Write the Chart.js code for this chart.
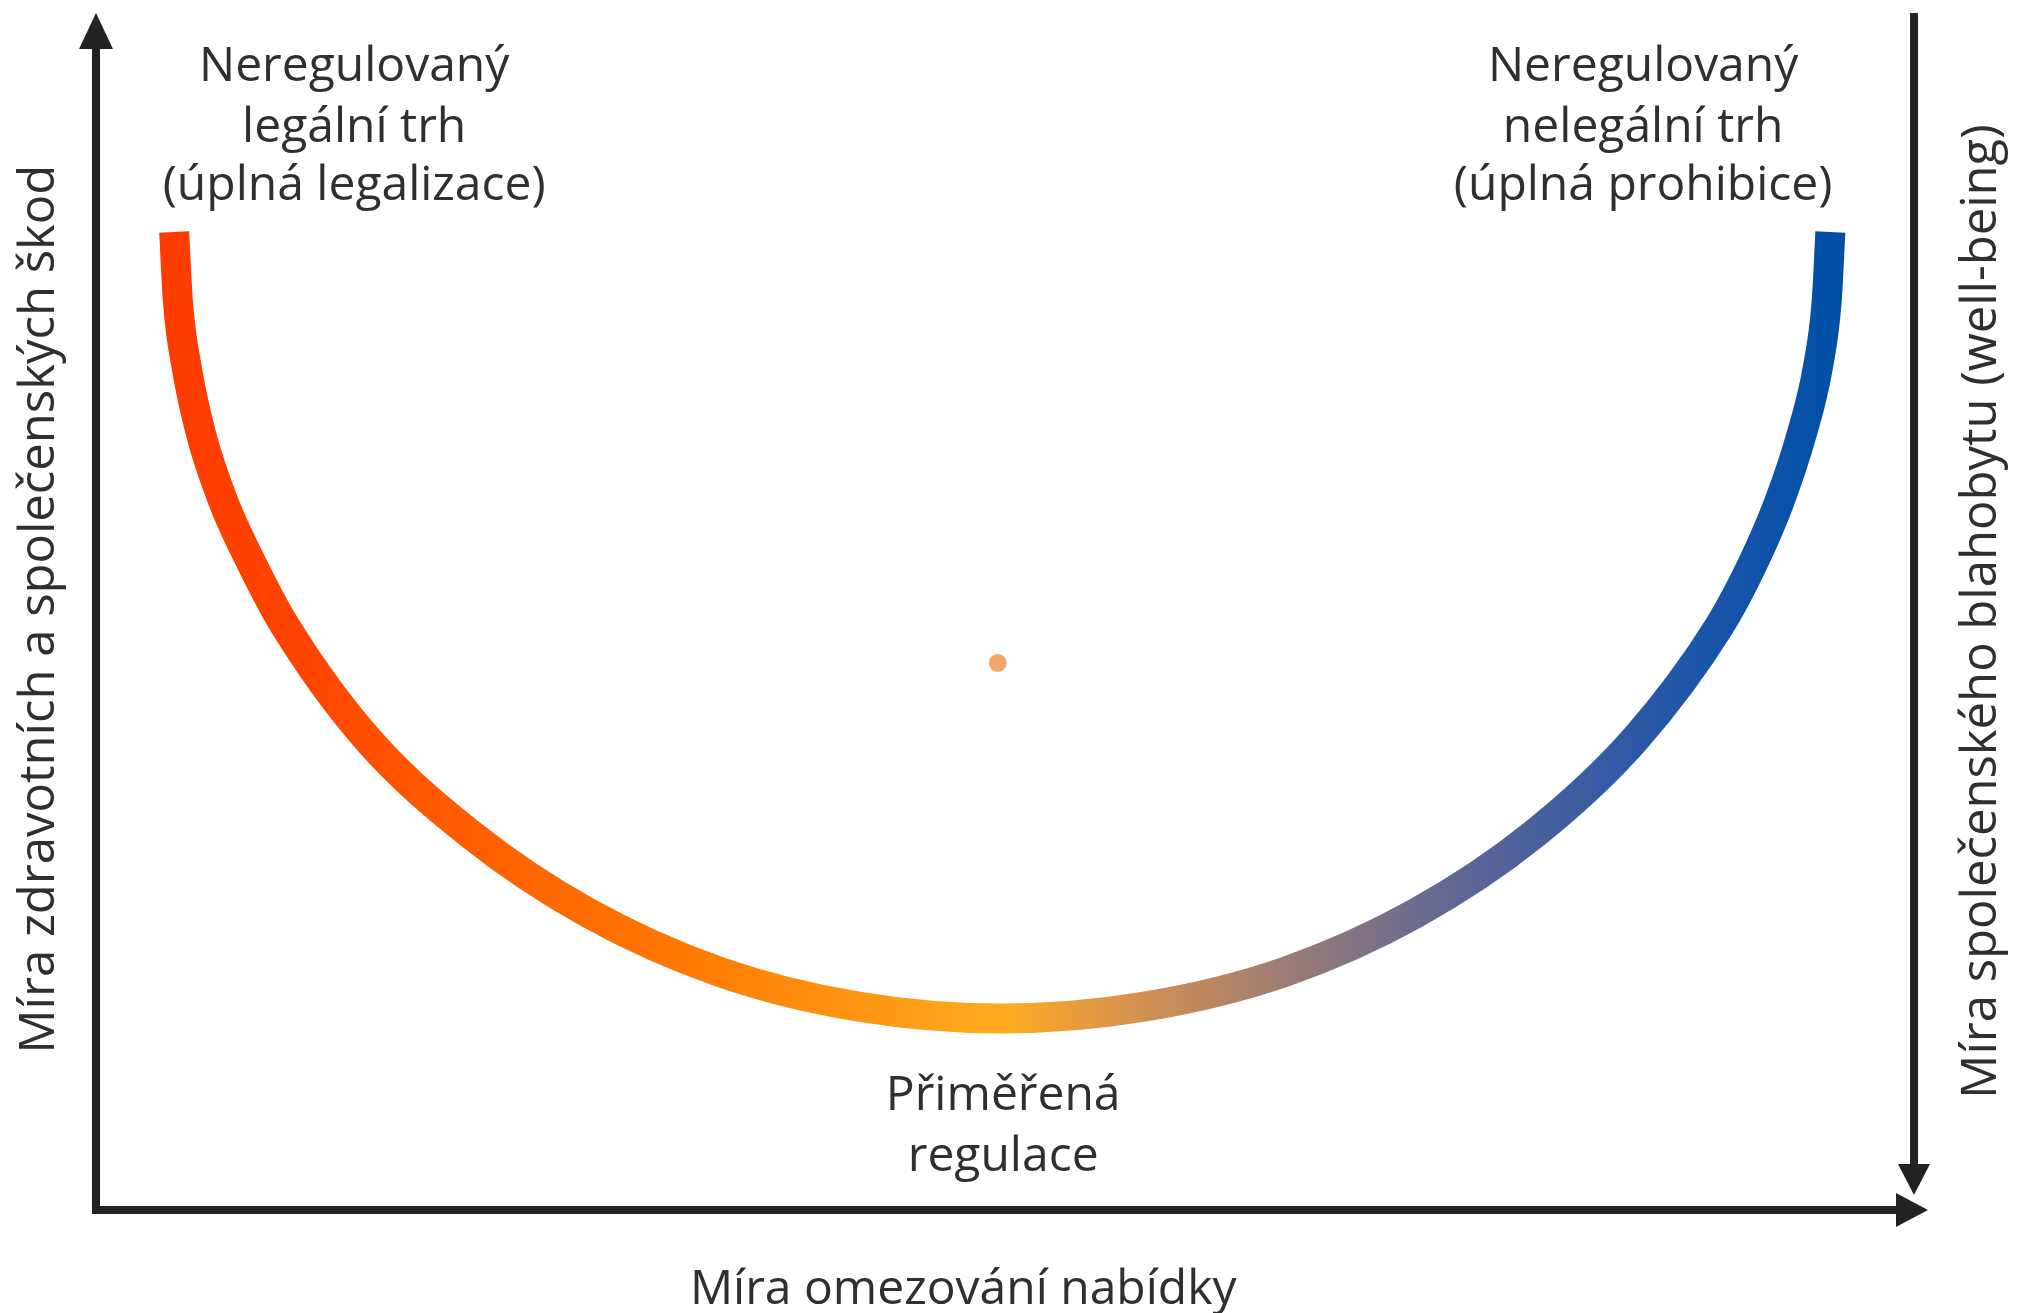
<!DOCTYPE html>
<html>
<head>
<meta charset="utf-8">
<script src="https://cdn.jsdelivr.net/npm/chart.js@4.4.4/dist/chart.umd.min.js"></script>
<style>
  html, body { margin: 0; padding: 0; background: #fff; }
  #wrap { width: 2018px; height: 1313px; position: relative; }
</style>
</head>
<body>
<div id="wrap"><canvas id="c"></canvas></div>
<script>
// ----- data (x: 0..100 supply restriction, y: 0..100 harm) -----
const restriction = [4.3, 4.5, 5.0, 5.8, 7.0, 8.6, 10.4, 14.9, 20.6, 27.1, 34.3, 41.9, 49.8, 57.7, 65.4, 72.6, 79.1, 84.7, 89.3, 91.1, 92.6, 93.8, 94.7, 95.2, 95.4];
const harm        = [81.7, 76.0, 70.3, 64.7, 59.2, 53.9, 48.8, 39.4, 31.4, 24.8, 19.9, 17.0, 16.0, 17.0, 19.9, 24.8, 31.4, 39.4, 48.8, 53.9, 59.2, 64.7, 70.3, 76.0, 81.7];
const centerDot   = [{ x: 49.6, y: 45.7 }];

const leftLabel   = ['Neregulovaný', 'legální trh', '(úplná legalizace)'];
const rightLabel  = ['Neregulovaný', 'nelegální trh', '(úplná prohibice)'];
const midLabel    = ['Přiměřená', 'regulace'];
const xTitle      = 'Míra omezování nabídky';
const yTitleLeft  = 'Míra zdravotních a společenských škod';
const yTitleRight = 'Míra společenského blahobytu (well-being)';

const FONT = '"Open Sans", "Noto Sans", sans-serif';
const TEXT = '#2f2f2f';
const INK = '#222';

const curve = restriction.map((x, i) => ({ x, y: harm[i] }));

function curveGradient(ctx) {
  const chart = ctx.chart;
  const { chartArea } = chart;
  if (!chartArea) return '#ff6a00';
  const xs = chart.scales.x;
  const x0 = xs.getPixelForValue(restriction[0]);
  const x1 = xs.getPixelForValue(restriction[restriction.length - 1]);
  const g = chart.ctx.createLinearGradient(x0, 0, x1, 0);
  g.addColorStop(0.000, '#ff3c00');
  g.addColorStop(0.080, '#ff4400');
  g.addColorStop(0.136, '#ff5500');
  g.addColorStop(0.287, '#ff7400');
  g.addColorStop(0.408, '#ff9412');
  g.addColorStop(0.500, '#ffab20');
  g.addColorStop(0.579, '#d69250');
  g.addColorStop(0.656, '#a6806e');
  g.addColorStop(0.726, '#7c7088');
  g.addColorStop(0.789, '#586498');
  g.addColorStop(0.851, '#3a5ca0');
  g.addColorStop(0.905, '#2256a8');
  g.addColorStop(0.967, '#0c52a8');
  g.addColorStop(1.000, '#0050a8');
  return g;
}

// axes with arrow heads + all the texts
const frame = {
  id: 'frame',
  afterDraw(chart) {
    const { ctx, chartArea: a } = chart;
    const xs = chart.scales.x, ys = chart.scales.y;
    ctx.save();
    ctx.fillStyle = INK;
    ctx.strokeStyle = INK;
    ctx.lineWidth = 8;
    ctx.lineCap = 'butt';

    // left axis (up)
    ctx.beginPath(); ctx.moveTo(a.left, a.bottom + 4); ctx.lineTo(a.left, a.top + 30); ctx.stroke();
    ctx.beginPath(); ctx.moveTo(a.left, a.top); ctx.lineTo(a.left - 17, a.top + 36); ctx.lineTo(a.left + 17, a.top + 36); ctx.closePath(); ctx.fill();

    // bottom axis (right)
    const xEnd = a.right + 14;
    ctx.beginPath(); ctx.moveTo(a.left - 4, a.bottom); ctx.lineTo(xEnd - 26, a.bottom); ctx.stroke();
    ctx.beginPath(); ctx.moveTo(xEnd, a.bottom); ctx.lineTo(xEnd - 32, a.bottom - 17); ctx.lineTo(xEnd - 32, a.bottom + 17); ctx.closePath(); ctx.fill();

    // right axis (down)
    ctx.beginPath(); ctx.moveTo(a.right, a.top); ctx.lineTo(a.right, a.bottom - 40); ctx.stroke();
    ctx.beginPath(); ctx.moveTo(a.right, a.bottom - 15); ctx.lineTo(a.right - 16, a.bottom - 46); ctx.lineTo(a.right + 16, a.bottom - 46); ctx.closePath(); ctx.fill();

    // labels
    ctx.fillStyle = TEXT;
    ctx.textAlign = 'center';
    ctx.textBaseline = 'middle';
    ctx.font = '48px ' + FONT;
    const block = (lines, xv, yv) => {
      lines.forEach((t, i) => ctx.fillText(t, xs.getPixelForValue(xv), ys.getPixelForValue(yv[i])));
    };
    block(leftLabel, 14.2, [95.5, 90.4, 85.5]);
    block(rightLabel, 85.1, [95.5, 90.4, 85.5]);
    block(midLabel, 49.9, [9.5, 4.4]);

    // axis titles
    ctx.font = '48px ' + FONT;
    ctx.fillText(xTitle, xs.getPixelForValue(47.7), a.bottom + 80);
    ctx.font = '49px ' + FONT;
    ctx.save();
    ctx.translate(a.left - 56, ys.getPixelForValue(50.2));
    ctx.rotate(-Math.PI / 2);
    ctx.fillText(yTitleLeft, 0, 0);
    ctx.restore();
    ctx.save();
    ctx.translate(a.right + 68, ys.getPixelForValue(50));
    ctx.rotate(-Math.PI / 2);
    ctx.fillText(yTitleRight, 0, 0);
    ctx.restore();
    ctx.restore();
  }
};

new Chart(document.getElementById('c'), {
  type: 'scatter',
  data: {
    datasets: [
      {
        data: curve,
        showLine: true,
        borderColor: curveGradient,
        borderWidth: 30,
        borderCapStyle: 'butt',
        borderJoinStyle: 'round',
        cubicInterpolationMode: 'monotone',
        pointRadius: 0
      },
      {
        data: centerDot,
        pointRadius: 9,
        pointBackgroundColor: '#f1a86e',
        pointBorderWidth: 0
      }
    ]
  },
  options: {
    responsive: true,
    maintainAspectRatio: false,
    animation: false,
    layout: { padding: { left: 96, right: 104, top: 13, bottom: 103 } },
    plugins: { legend: { display: false }, tooltip: { enabled: false } },
    scales: {
      x: { type: 'linear', min: 0, max: 100, display: false },
      y: { type: 'linear', min: 0, max: 100, display: false }
    }
  },
  plugins: [frame]
});
</script>
</body>
</html>
